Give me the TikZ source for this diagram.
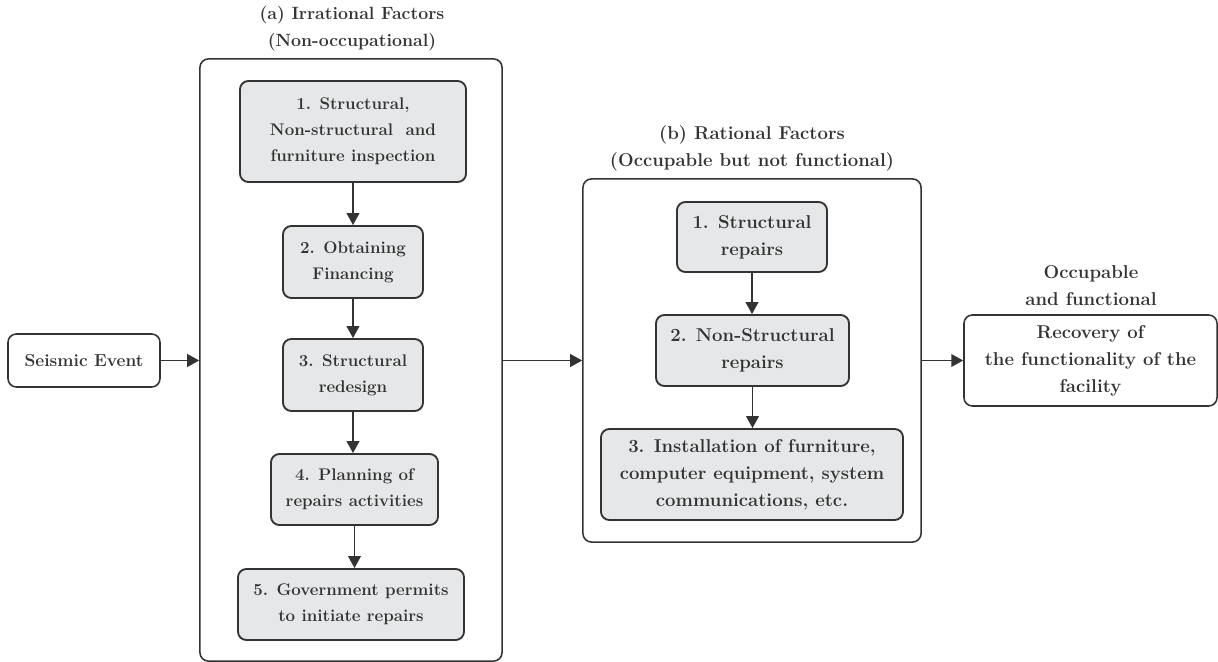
\documentclass[tikz,border=0pt]{standalone}
\usepackage{tikz}
\usetikzlibrary{arrows.meta}
\usetikzlibrary{positioning}

\definecolor{inkgray}{HTML}{333333}
\definecolor{boxgray}{HTML}{E6E7E8}

\begin{document}
\begin{tikzpicture}[x=0.025cm,y=-0.025cm,
  every node/.style={text=inkgray,align=center,
      font=\fontsize{12}{18.5}\selectfont\bfseries},
  bigtext/.style={font=\fontsize{13.2}{19.2}\selectfont\bfseries},
  frame/.style={draw=inkgray,line width=1.1pt,rounded corners=6pt,
      fill=white,inner sep=0pt},
  stage/.style={draw=inkgray,line width=1.3pt,rounded corners=6pt,
      fill=boxgray,inner sep=0pt},
  flow/.style={draw=inkgray,line width=1.3pt,
      -{Triangle[length=8.5pt,width=9pt]}}]
  \useasboundingbox (0,0) rectangle (1218,662);

  % outer frames
  \node[frame,minimum width=7.55cm,minimum height=15.05cm] (frameA) at (351,360) {};
  \node[frame,minimum width=8.45cm,minimum height=9.075cm] (frameB) at (752,360.5) {};

  % titles
  \node[font=\fontsize{12.6}{19}\selectfont\bfseries] (titleA) at (352,28.5)
       {(a) Irrational Factors\\(Non-occupational)};
  \node[bigtext] (titleB) at (752,148.5) {(b) Rational Factors\\(Occupable but not functional)};
  \node[bigtext] (titleC) at (1091,285.5) {Occupable\\and functional};

  % start and end
  \node[frame,minimum width=3.8cm,minimum height=1.325cm,
        font=\fontsize{12.3}{18.5}\selectfont\bfseries] (seis) at (84,360.5) {Seismic Event};
  \node[frame,bigtext,minimum width=6.325cm,minimum height=2.275cm] (recov) at (1090.5,360.5)
       {Recovery of\\the functionality of the\\facility};

  % irrational factors
  \node[stage,minimum width=5.65cm,minimum height=2.525cm] (a_1) at (353,131.5)
       {1. Structural,\\Non-structural\ \ and\\furniture inspection};
  \node[stage,minimum width=3.5cm,minimum height=1.8cm] (a_2) at (353,262)
       {2. Obtaining\\Financing};
  \node[stage,minimum width=3.5cm,minimum height=1.8cm] (a_3) at (353,375)
       {3. Structural\\redesign};
  \node[stage,minimum width=4.175cm,minimum height=1.775cm] (a_4) at (354.5,489.5)
       {4. Planning of\\repairs activities};
  \node[stage,minimum width=5.65cm,minimum height=1.775cm] (a_5) at (351,604.5)
       {5. Government permits\\to initiate repairs};

  % rational factors
  \node[stage,bigtext,minimum width=3.75cm,minimum height=1.75cm] (b_1) at (752,237)
       {1. Structural\\repairs};
  \node[stage,bigtext,minimum width=4.825cm,minimum height=1.775cm] (b_2) at (752.5,350.5)
       {2. Non-Structural\\repairs};
  \node[stage,bigtext,minimum width=7.55cm,minimum height=2.275cm] (b_3) at (752,474.5)
       {3. Installation of furniture,\\computer equipment, system\\communications, etc.};

  \draw[flow] (a_1.south) -- (a_1.south |- a_2.north);
  \draw[flow] (a_2.south) -- (a_2.south |- a_3.north);
  \draw[flow] (a_3.south) -- (a_3.south |- a_4.north);
  \draw[flow] (a_4.south) -- (a_4.south |- a_5.north);
  \draw[flow] (b_1.south) -- (b_1.south |- b_2.north);
  \draw[flow] (b_2.south) -- (b_2.south |- b_3.north);

  \draw[flow] (seis.east) -- (seis.east -| frameA.west);
  \draw[flow] (frameA.east |- seis) -- (frameB.west |- seis);
  \draw[flow] (frameB.east |- recov) -- (recov.west);
\end{tikzpicture}
\end{document}
